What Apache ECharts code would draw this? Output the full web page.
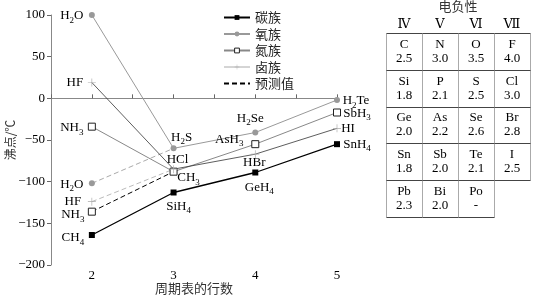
<!DOCTYPE html>
<html><head><meta charset="utf-8">
<script src="https://cdn.jsdelivr.net/npm/echarts@6/dist/echarts.min.js"></script>
<style>html,body{margin:0;padding:0;background:#fff}#c{width:541px;height:297px}</style>
</head><body><div id="c"></div>
<script>
// ---------- data ----------
const periods = [2, 3, 4, 5];
const carbonNames = ['CH4', 'SiH4', 'GeH4', 'SnH4'];
const carbonValues = [-164, -113, -89, -55];
const oxygenNames = ['H2O', 'H2S', 'H2Se', 'H2Te'];
const oxygenValues = [100, -60, -41, -2];
const nitrogenNames = ['NH3', 'CH3', 'AsH3', 'SbH3'];
const nitrogenValues = [-34, -88, -55, -17];
const halogenNames = ['HF', 'HCl', 'HBr', 'HI'];
const halogenValues = [19, -85, -67, -36];
const predictedNames = ['H2O', 'HF', 'NH3'];
const predictedValues = [-102, -124, -136];
const legendNames = ['碳族', '氧族', '氮族', '卤族', '预测值'];
const tableHeaders = ['Ⅳ', 'Ⅴ', 'Ⅵ', 'Ⅶ'];
const tableSymbols = [['C', 'N', 'O', 'F'], ['Si', 'P', 'S', 'Cl'], ['Ge', 'As', 'Se', 'Br'], ['Sn', 'Sb', 'Te', 'I'], ['Pb', 'Bi', 'Po']];
const tableValues = [['2.5', '3.0', '3.5', '4.0'], ['1.8', '2.1', '2.5', '3.0'], ['2.0', '2.2', '2.6', '2.8'], ['1.8', '2.0', '2.1', '2.5'], ['2.3', '2.0', '-']];

// ---------- styles ----------
const SERIF = '"Liberation Serif","DejaVu Serif",serif';
const CJK = '"Noto Sans CJK SC",sans-serif';
const labelOffsets = {
  CH4: [-19, 3], SiH4: [5, 14], GeH4: [4, 15], SnH4: [20, 0],
  H2O: [-20, 1], H2S: [8, -11], H2Se: [-5, -14], H2Te: [19, 1],
  NH3: [-20, 1], CH3: [15, 6], AsH3: [-26, -5], SbH3: [20, 1],
  HF: [-17, 0], HCl: [4, -10], HBr: [-1, 8], HI: [11, 0],
  'p:H2O': [-20, 1], 'p:HF': [-19, 0], 'p:NH3': [-19, 3]
};
const PLUS = 'path://M0,4.6L10,4.6L10,5.4L0,5.4Z M4.6,0L5.4,0L5.4,10L4.6,10Z';
function fmt(n) { return n.replace(/([A-Za-z]+)|(\d+)/g, (m, a, d) => a ? '{a|' + a + '}' : '{s|' + d + '}'); }
const rich = {
  a: { fontFamily: SERIF, fontSize: 13, lineHeight: 18, color: '#000' },
  s: { fontFamily: SERIF, fontSize: 9, lineHeight: 9, verticalAlign: 'bottom', color: '#000' }
};
const baseLabel = { show: true, position: 'inside', formatter: p => fmt(p.name), rich: rich };

function pts(names, values, key) {
  return values.map((v, i) => ({
    name: names[i], value: [periods[i], v],
    label: { offset: labelOffsets[(key || '') + names[i]] }
  }));
}

function groupSeries(name, names, values, lineColor, lineWidth, symbol, size, itemStyle) {
  return {
    name: name, type: 'line', data: pts(names, values),
    symbol: symbol, symbolSize: size, showSymbol: true,
    lineStyle: { color: lineColor, width: lineWidth },
    itemStyle: itemStyle, color: lineColor,
    label: baseLabel, z: 3
  };
}

function predSeries(name, idx, target, lineColor, symbol, size, itemStyle) {
  return {
    name: name, type: 'line', symbol: 'none', showSymbol: true,
    data: [
      { name: predictedNames[idx], value: [periods[0], predictedValues[idx]], symbol: symbol, symbolSize: size, itemStyle: itemStyle,
        label: { show: true, offset: labelOffsets['p:' + predictedNames[idx]] } },
      { name: '', value: [periods[1], target], label: { show: false } }
    ],
    lineStyle: { color: lineColor, width: 1, type: [5, 3] },
    itemStyle: itemStyle, color: lineColor,
    label: baseLabel, z: 2
  };
}

const tableData = [];
tableSymbols.forEach((row, r) => row.forEach((s, c) => tableData.push([c, r])));

const option = {
  animation: false,
  backgroundColor: '#fff',
  legend: {
    orient: 'vertical', left: 223, top: 11, padding: 0, itemWidth: 26, itemHeight: 6, itemGap: 3.5,
    selectedMode: false,
    textStyle: { fontFamily: CJK, fontSize: 13, color: '#222' },
    data: [
      { name: legendNames[0] },
      { name: legendNames[1] },
      { name: legendNames[2], itemStyle: { color: '#fff', borderColor: '#222', borderWidth: 1 } },
      { name: legendNames[3], lineStyle: { color: '#aaa', width: 1 } },
      { name: legendNames[4], itemStyle: { color: 'rgba(0,0,0,0)', borderColor: 'rgba(0,0,0,0)', opacity: 0 } }
    ]
  },
  grid: [
    { left: 51, right: 204, top: 15, bottom: 32, containLabel: false, outerBoundsMode: 'none' },
    { left: 386, top: 33, width: 144, height: 184, containLabel: false, outerBoundsMode: 'none' }
  ],
  xAxis: [
    {
      type: 'value', min: 1.5, max: 5, interval: 0.5,
      name: '周期表的行数', nameLocation: 'middle', nameGap: 17, nameMoveOverlap: false,
      nameTextStyle: { fontFamily: CJK, fontSize: 13, color: '#333', verticalAlign: 'top' },
      axisLine: { lineStyle: { color: '#888' } },
      axisTick: { inside: true, length: 4, lineStyle: { color: '#666' } },
      axisLabel: { fontFamily: SERIF, fontSize: 13, color: '#000', margin: 4,
        formatter: v => (v === Math.round(v) && v >= periods[0]) ? String(v) : '' },
      splitLine: { show: false }
    },
    {
      type: 'category', gridIndex: 1, position: 'top', data: tableHeaders,
      name: '电负性', nameLocation: 'middle', nameGap: 20, nameMoveOverlap: false,
      nameTextStyle: { fontFamily: CJK, fontSize: 13, color: '#333', verticalAlign: 'bottom' },
      axisLine: { show: false }, axisTick: { show: false },
      axisLabel: { fontFamily: SERIF, fontSize: 13, color: '#000', margin: 2 }
    }
  ],
  yAxis: [
    {
      type: 'value', min: -200, max: 100, interval: 50,
      name: '沸点/℃', nameLocation: 'middle', nameGap: 35, nameRotate: 90, nameMoveOverlap: false,
      nameTextStyle: { fontFamily: CJK, fontSize: 12, color: '#333', verticalAlign: 'bottom' },
      axisLine: { show: true, lineStyle: { color: '#888' } },
      axisTick: { show: true, length: 4, lineStyle: { color: '#666' } },
      axisLabel: { fontFamily: SERIF, fontSize: 13, color: '#000', margin: 6,
        formatter: v => v < 0 ? '\u2212' + (-v) : String(v) },
      splitLine: { show: false }
    },
    {
      type: 'category', gridIndex: 1, inverse: true, data: tableSymbols.map((r, i) => String(i)),
      show: false
    }
  ],
  series: [
    predSeries('O预测', 0, oxygenValues[1], '#aaa', 'circle', 6, { color: '#999' }),
    predSeries('F预测', 1, halogenValues[1], '#bbb', PLUS, 8, { color: '#aaa' }),
    predSeries(legendNames[4], 2, nitrogenValues[1], '#000', 'rect', 7, { color: '#fff', borderColor: '#222', borderWidth: 1 }),
    groupSeries(legendNames[0], carbonNames, carbonValues, '#000', 1.3, 'rect', 6, { color: '#000' }),
    groupSeries(legendNames[1], oxygenNames, oxygenValues, '#999', 1, 'circle', 6, { color: '#999' }),
    groupSeries(legendNames[2], nitrogenNames, nitrogenValues, '#888', 1, 'rect', 7, { color: '#fff', borderColor: '#222', borderWidth: 1 }),
    groupSeries(legendNames[3], halogenNames, halogenValues, '#333', 0.8, PLUS, 8, { color: '#aaa' }),
    {
      type: 'custom', xAxisIndex: 1, yAxisIndex: 1, data: tableData, silent: true,
      renderItem: function (params, api) {
        const c = api.value(0), r = api.value(1);
        const p = api.coord([c, r]);
        const s = api.size([1, 1]);
        const x0 = Math.round(p[0] - s[0] / 2) + 0.5, x1 = Math.round(p[0] + s[0] / 2) + 0.5;
        const y0 = Math.round(p[1] - s[1] / 2) + 0.5, y1 = Math.round(p[1] + s[1] / 2) + 0.5;
        return {
          type: 'group', children: [
            { type: 'line', shape: { x1: x0, y1: y0, x2: x0, y2: y1 }, style: { stroke: '#aaa', lineWidth: 1 } },
            { type: 'line', shape: { x1: x1, y1: y0, x2: x1, y2: y1 }, style: { stroke: '#aaa', lineWidth: 1 } },
            { type: 'line', shape: { x1: x0, y1: y0, x2: x1, y2: y0 }, style: { stroke: '#444', lineWidth: 1 } },
            { type: 'line', shape: { x1: x0, y1: y1, x2: x1, y2: y1 }, style: { stroke: '#444', lineWidth: 1 } },
            { type: 'text', style: { text: tableSymbols[r][c], x: p[0], y: p[1] - 7, align: 'center', verticalAlign: 'middle', font: '13px ' + SERIF, fill: '#000' } },
            { type: 'text', style: { text: tableValues[r][c], x: p[0], y: p[1] + 7, align: 'center', verticalAlign: 'middle', font: '13px ' + SERIF, fill: '#000' } }
          ]
        };
      }
    }
  ]
};
const chart = echarts.init(document.getElementById('c'), null, { renderer: 'canvas' });
chart.setOption(option);
</script>
</body></html>
